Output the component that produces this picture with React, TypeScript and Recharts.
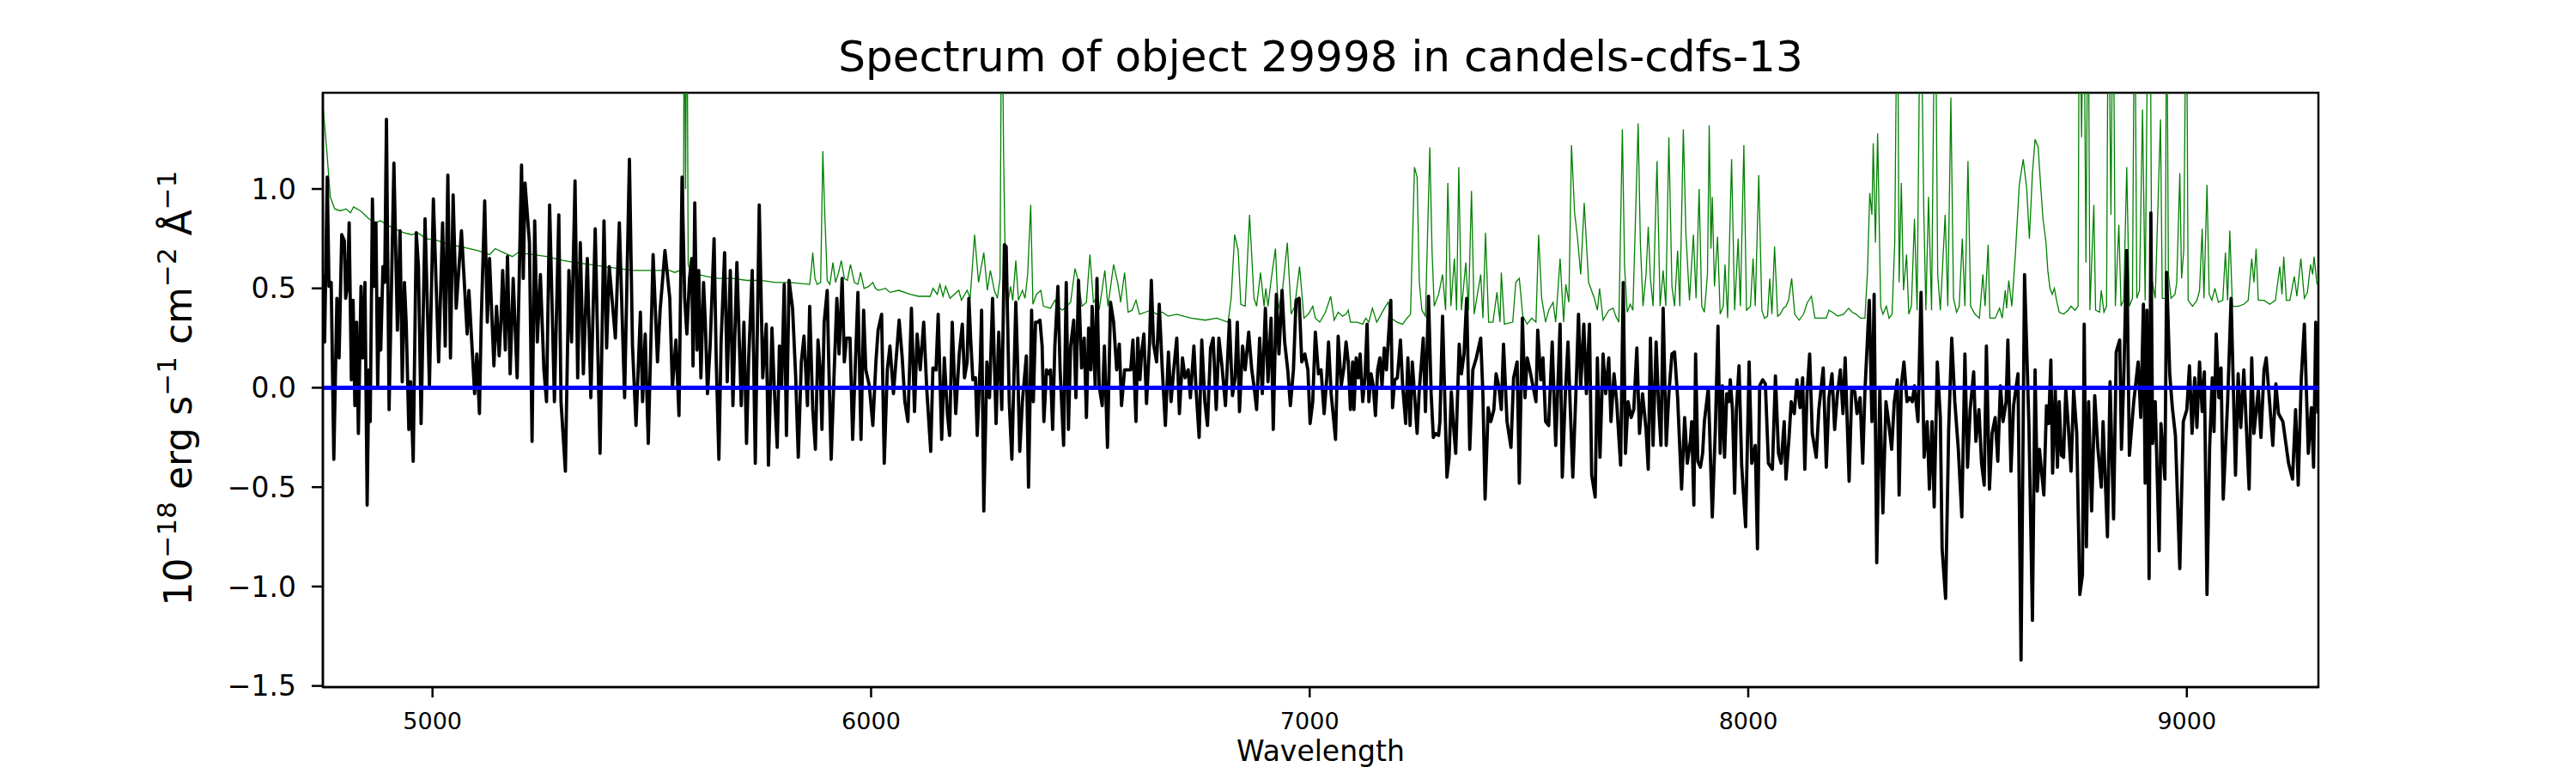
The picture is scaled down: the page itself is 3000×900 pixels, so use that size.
import { LineChart, Line, XAxis, YAxis, Label, ReferenceArea } from "recharts";

const fluxBlue4750: [number, number][] = [
  [4750, 0.57], [4754, 0.23], [4760, 1.06], [4764, 0.51], [4769, 0.53], [4775, -0.36], [4782, 0.45], [4787, 0.15],
  [4793, 0.77], [4799, 0.74], [4802, 0.45], [4806, 0.51], [4810, 0.83], [4815, 0.04], [4819, 0.44], [4823, -0.09],
  [4827, 0.33], [4831, -0.23], [4837, 0.51], [4841, 0.15], [4846, 0.53], [4851, -0.59], [4855, 0.09], [4858, -0.17],
  [4863, 0.95], [4867, 0.51], [4871, 0.83], [4875, 0.01], [4879, 0.45], [4882, 0.19], [4887, 0.61], [4891, 0.53],
  [4895, 1.35], [4901, -0.11], [4912, 1.13], [4920, 0.29], [4926, 0.79], [4931, 0.03], [4936, 0.53], [4940, 0.33],
  [4946, -0.21], [4950, 0.03], [4956, -0.37], [4963, 0.78], [4968, 0.61], [4974, -0.18], [4983, 0.85], [4993, 0.01],
  [5002, 0.95], [5014, 0.13], [5023, 0.83], [5029, 0.21], [5035, 1.07], [5041, 0.15], [5047, 0.97], [5054, 0.4],
  [5066, 0.79], [5079, 0.27], [5083, 0.49], [5096, -0.03], [5101, 0.17], [5107, -0.13], [5111, 0.33], [5119, 0.94],
  [5125, 0.33], [5130, 0.65], [5140, 0.11], [5146, 0.41], [5152, 0.16], [5156, 0.33], [5160, 0.59], [5166, 0.19],
  [5171, 0.66], [5177, 0.07], [5184, 0.55], [5193, 0.05], [5203, 1.12], [5207, 0.55], [5211, 1.03], [5221, 0.73],
  [5227, -0.27], [5233, 0.84], [5239, 0.23], [5246, 0.57], [5254, 0.09], [5260, -0.07], [5267, 0.92], [5278, -0.07],
  [5288, 0.87], [5293, -0.07], [5303, -0.42], [5311, 0.59], [5317, 0.23], [5325, 1.04], [5331, 0.05], [5337, 0.73],
  [5344, 0.07], [5353, 0.65], [5361, -0.05], [5371, 0.8], [5382, -0.33], [5391, 0.84], [5397, 0.2], [5403, 0.61],
  [5417, 0.25], [5426, 0.83], [5438, -0.05], [5449, 1.15], [5456, 0.21], [5464, -0.19], [5474, 0.38], [5479, -0.07],
  [5485, 0.27], [5492, -0.28], [5503, 0.67], [5513, 0.13], [5519, 0.39], [5530, 0.69], [5541, 0.45],
];

const fluxBlue5550: [number, number][] = [
  [5547, 0.0], [5555, 0.24], [5562, -0.14], [5569, 1.06], [5575, 0.45], [5580, 0.27], [5586, 0.55], [5591, 0.65],
  [5594, 0.11], [5598, 0.93], [5603, 0.19], [5607, 0.59], [5612, 0.05], [5618, 0.53], [5622, 0.33], [5627, -0.03],
  [5633, 0.21], [5642, 0.75], [5647, 0.13], [5653, -0.36], [5658, 0.23], [5666, 0.68], [5672, 0.03], [5679, 0.59],
  [5685, -0.09], [5694, 0.63], [5704, -0.09], [5710, 0.33], [5716, -0.28], [5721, 0.15], [5729, 0.59], [5736, -0.38],
  [5745, 0.92], [5753, 0.05], [5761, 0.32], [5766, -0.39], [5774, 0.3], [5779, 0.01], [5786, -0.3], [5791, 0.21],
  [5796, 0.01], [5802, 0.52], [5807, -0.24], [5813, 0.54], [5821, 0.4], [5828, 0.06], [5834, -0.35], [5841, 0.13],
  [5847, 0.26], [5855, -0.09], [5860, 0.41], [5867, -0.11], [5873, -0.31], [5879, 0.24], [5884, 0.09], [5888, -0.21],
  [5893, 0.33], [5900, 0.49], [5903, 0.17], [5909, -0.36], [5916, 0.09], [5922, 0.45], [5927, 0.17], [5934, 0.55],
  [5939, 0.13], [5944, 0.25], [5952, 0.25], [5958, -0.26], [5970, 0.48], [5977, -0.26], [5983, 0.39], [5988, 0.09],
  [5996, 0.01], [6004, -0.19], [6011, 0.13], [6016, 0.29], [6024, 0.37], [6030, -0.38], [6037, 0.09], [6043, 0.21],
  [6051, -0.03], [6058, 0.17], [6064, 0.34], [6071, 0.15], [6077, -0.07], [6084, -0.17], [6092, 0.4], [6099, -0.12],
  [6105, 0.27], [6112, 0.09], [6120, 0.33], [6127, -0.01], [6136, -0.32], [6141, 0.1], [6148, 0.09], [6153, 0.37],
  [6161, -0.26], [6167, 0.15], [6174, -0.13], [6179, -0.24], [6185, 0.33], [6193, -0.13], [6201, 0.17], [6208, 0.32],
  [6213, 0.05], [6219, 0.13], [6223, 0.45], [6227, 0.25], [6232, 0.04], [6238, 0.05], [6242, -0.24], [6249, 0.13],
  [6252, 0.39], [6257, -0.62], [6264, 0.13], [6270, -0.05], [6277, 0.45], [6285, -0.18], [6291, 0.28], [6298, -0.11],
  [6304, 0.72],
];

const fluxBlue6300: [number, number][] = [
  [6308, 0.71], [6315, -0.07], [6321, -0.36], [6330, 0.43], [6334, 0.13], [6339, -0.32], [6345, -0.07], [6354, 0.16],
  [6359, -0.5], [6366, 0.39], [6370, -0.07], [6375, 0.33], [6380, 0.33], [6385, 0.34], [6390, 0.21], [6394, -0.17],
  [6400, 0.09], [6404, 0.07], [6409, 0.09], [6414, -0.21], [6419, 0.21], [6426, 0.51], [6431, 0.09], [6439, -0.29],
  [6445, 0.53], [6450, -0.21], [6455, 0.21], [6462, 0.34], [6467, -0.05], [6473, 0.54], [6480, 0.1], [6486, 0.25],
  [6491, -0.15], [6496, 0.3], [6501, 0.09], [6504, 0.41], [6511, 0.01], [6515, 0.55], [6520, 0.01], [6527, -0.09],
  [6532, 0.21], [6539, -0.3], [6546, 0.43], [6553, 0.33], [6560, 0.09], [6566, 0.22], [6571, -0.09], [6578, 0.09],
  [6584, 0.09], [6592, 0.09], [6597, 0.24], [6604, -0.17], [6608, 0.25], [6613, 0.04], [6617, 0.18], [6622, 0.27],
  [6628, -0.08], [6635, 0.23], [6639, 0.54], [6644, 0.22], [6651, 0.13], [6657, 0.42], [6664, 0.09], [6671, -0.19],
  [6678, 0.18], [6684, -0.07], [6690, 0.09], [6697, 0.25], [6703, -0.13], [6710, 0.15], [6716, 0.05], [6723, 0.09],
  [6728, -0.05], [6736, 0.21], [6741, -0.01], [6748, -0.25], [6754, 0.24], [6761, -0.07], [6767, -0.19], [6774, 0.2],
  [6780, 0.25], [6787, -0.11], [6793, 0.25], [6800, 0.11], [6808, -0.09], [6817, 0.34], [6824, -0.04], [6830, 0.05],
  [6835, 0.33], [6840, -0.12], [6847, 0.21], [6853, 0.09], [6861, 0.28], [6868, 0.09], [6873, 0.01], [6879, -0.11],
  [6886, 0.25], [6892, -0.03], [6899, 0.4], [6905, 0.03], [6912, 0.35], [6917, -0.21], [6924, 0.47], [6930, 0.17],
  [6937, 0.49], [6943, 0.23], [6950, 0.09], [6956, -0.09], [6963, 0.09], [6969, 0.44], [6976, 0.45], [6982, 0.13],
  [6989, 0.17], [6996, 0.09], [7001, -0.18], [7007, -0.07], [7013, 0.28], [7020, 0.07], [7026, 0.09], [7033, -0.13],
  [7039, 0.05], [7043, 0.23], [7049, -0.03], [7059, -0.26], [7065, 0.26], [7072, 0.01], [7078, 0.1], [7083, 0.23],
];

const fluxBlue7090: [number, number][] = [
  [7088, 0.13], [7093, -0.11], [7098, 0.13], [7101, -0.11], [7106, 0.15], [7111, 0.05], [7115, 0.17], [7121, -0.07],
  [7126, 0.05], [7131, 0.32], [7135, -0.07], [7140, 0.07], [7145, 0.01], [7150, -0.14], [7155, 0.09], [7160, 0.15],
  [7165, 0.01], [7170, 0.2], [7175, 0.09], [7179, 0.23], [7185, 0.44], [7189, -0.1], [7194, 0.04], [7200, 0.05],
  [7207, 0.24], [7212, 0.01], [7219, -0.18], [7224, 0.15], [7229, -0.19], [7234, 0.13], [7239, -0.03], [7245, -0.23],
  [7250, -0.01], [7255, 0.13], [7259, 0.25], [7264, -0.12], [7271, 0.46], [7277, -0.03], [7282, -0.25], [7287, -0.23],
  [7294, -0.24], [7297, -0.17], [7303, 0.36], [7313, -0.45], [7318, -0.35], [7323, -0.02], [7328, -0.19], [7333, -0.33],
  [7341, 0.22], [7346, 0.07], [7352, 0.17], [7358, 0.45], [7365, -0.31], [7372, 0.09], [7380, 0.15], [7390, 0.25],
  [7395, -0.03], [7400, -0.56], [7407, -0.1], [7413, -0.17], [7420, -0.11], [7425, 0.07], [7431, 0.01], [7437, -0.11],
  [7442, 0.22], [7450, -0.17], [7459, -0.3], [7465, 0.05], [7473, 0.13], [7478, -0.48], [7485, 0.35], [7491, -0.05],
  [7496, 0.15], [7502, 0.09], [7509, 0.01], [7516, -0.07], [7520, 0.29], [7527, 0.04], [7532, 0.15], [7538, -0.17],
  [7545, -0.19], [7553, 0.23], [7561, -0.29], [7571, 0.32], [7576, -0.45], [7583, -0.03], [7589, 0.23], [7594, -0.09],
  [7600, -0.45], [7607, -0.03], [7613, 0.37], [7618, 0.0], [7625, 0.32], [7631, -0.03], [7638, 0.32], [7643, -0.44],
  [7651, -0.55], [7656, 0.15], [7662, -0.35], [7669, 0.17], [7675, -0.03], [7682, 0.15], [7687, -0.17], [7694, 0.07],
  [7700, -0.07], [7705, -0.25], [7709, -0.39], [7715, 0.53], [7720, -0.33], [7726, -0.07], [7733, -0.15], [7739, -0.11],
  [7746, 0.2], [7752, -0.23], [7759, -0.03], [7767, -0.21], [7772, -0.41], [7777, 0.25], [7783, -0.29], [7790, 0.23],
  [7796, -0.11], [7801, -0.29], [7806, 0.4], [7813, -0.29], [7819, -0.03], [7826, 0.17], [7832, 0.18], [7839, -0.05],
  [7848, -0.51], [7855, -0.15], [7861, -0.38], [7868, -0.27],
];

const fluxBlue7870: [number, number][] = [
  [7871, -0.17], [7876, -0.59], [7880, 0.17], [7885, -0.37], [7891, -0.4], [7896, -0.33], [7900, -0.17], [7909, 0.0],
  [7918, -0.65], [7925, -0.21], [7931, 0.31], [7936, -0.33], [7941, 0.01], [7946, -0.35], [7951, -0.03], [7956, -0.07],
  [7959, 0.04], [7964, -0.11], [7969, -0.53], [7973, -0.11], [7979, 0.11], [7985, -0.39], [7994, -0.7], [8002, 0.13],
  [8008, -0.38], [8016, -0.29], [8021, -0.81], [8026, 0.01], [8033, 0.04], [8039, 0.02], [8046, -0.38], [8055, -0.41],
  [8062, 0.06], [8069, -0.33], [8075, -0.38], [8082, -0.17], [8086, -0.46], [8093, -0.25], [8098, -0.07], [8105, -0.13],
  [8111, 0.04], [8118, -0.1], [8124, 0.05], [8129, -0.41], [8134, -0.03], [8140, 0.17], [8146, -0.23], [8155, -0.35],
  [8161, -0.11], [8171, 0.1], [8178, -0.4], [8184, -0.05], [8191, 0.07], [8197, -0.21], [8203, -0.04], [8210, 0.09],
  [8216, -0.13], [8221, 0.15], [8230, -0.47], [8236, -0.01], [8243, -0.02], [8248, -0.13], [8255, -0.05], [8261, -0.38],
  [8266, -0.02], [8276, 0.44], [8282, -0.17], [8287, 0.47], [8293, -0.88], [8300, -0.01], [8307, -0.63], [8314, -0.07],
  [8320, -0.17], [8327, -0.31], [8333, -0.07], [8340, 0.04], [8344, -0.54], [8349, 0.01], [8355, 0.13], [8362, -0.07],
  [8368, -0.05], [8374, -0.07], [8379, 0.01], [8387, -0.17], [8394, 0.48], [8401, -0.35], [8408, -0.17], [8413, -0.51],
  [8419, -0.17], [8424, -0.6], [8431, 0.13], [8438, -0.15], [8442, -0.81], [8450, -1.06], [8457, -0.21], [8464, 0.25],
  [8471, -0.07], [8479, -0.31], [8487, -0.65], [8494, 0.17], [8500, -0.4], [8506, -0.11], [8514, 0.08], [8519, -0.27],
  [8526, -0.11], [8532, -0.38], [8538, -0.49], [8543, 0.21], [8550, -0.51], [8556, -0.23], [8563, -0.15], [8569, -0.37],
  [8575, 0.01], [8581, -0.17], [8588, -0.07], [8592, 0.24], [8599, -0.42], [8605, -0.09], [8615, 0.07], [8622, -1.37],
  [8630, 0.57], [8640, -0.19], [8648, -1.17],
];

const fluxBlue8650: [number, number][] = [
  [8654, 0.09], [8659, -0.52], [8664, -0.31], [8674, -0.54], [8680, -0.09], [8685, -0.18], [8690, 0.14], [8694, -0.43],
  [8700, -0.01], [8705, -0.4], [8709, -0.07], [8714, -0.34], [8719, -0.35], [8724, -0.01], [8730, -0.2], [8736, -0.42],
  [8742, -0.01], [8749, -0.23], [8756, -1.04], [8762, -0.94], [8766, 0.32], [8771, -0.8], [8776, -0.07], [8783, -0.62],
  [8790, -0.04], [8797, -0.3], [8805, -0.5], [8809, -0.17], [8819, -0.75], [8825, 0.03], [8833, -0.66], [8839, 0.18],
  [8847, 0.24], [8851, -0.31], [8856, 0.03], [8863, 0.69], [8869, -0.34], [8879, -0.07], [8889, 0.13], [8895, -0.15],
  [8901, 0.42], [8905, -0.48], [8909, 0.39], [8914, -0.96], [8918, 0.88], [8922, -0.28], [8928, -0.07], [8937, -0.82],
  [8941, -0.18], [8950, -0.46], [8954, 0.58], [8961, 0.07], [8967, -0.1], [8974, -0.24], [8984, -0.91], [8992, -0.17],
  [9000, -0.11], [9006, 0.11], [9012, -0.23], [9018, 0.05], [9023, -0.2], [9029, 0.13], [9035, -0.12], [9040, 0.08],
  [9046, -1.04], [9052, -0.3], [9058, 0.05], [9062, -0.22], [9067, 0.27], [9073, -0.05], [9078, 0.1], [9083, -0.56],
  [9093, -0.07], [9101, 0.45], [9111, -0.44], [9117, 0.07], [9123, -0.2], [9130, 0.09], [9142, -0.51], [9148, 0.15],
  [9153, -0.23], [9163, -0.01], [9169, -0.25], [9176, 0.09], [9181, 0.15], [9188, -0.05], [9196, -0.29], [9203, 0.02],
  [9209, -0.13], [9219, -0.17], [9232, -0.38], [9241, -0.46], [9248, -0.11], [9254, -0.49], [9261, 0.05], [9268, 0.32],
  [9277, -0.33], [9284, -0.1], [9289, -0.4], [9294, 0.33], [9299, -0.13],
];

// Noise / sky spectrum (green); sky lines above the frame are clipped
const errBlue4750: [number, number][] = [
  [4751, 1.4], [4758, 1.22], [4767, 0.96], [4777, 0.9], [4790, 0.89], [4803, 0.9], [4813, 0.88], [4820, 0.91],
  [4836, 0.89], [4855, 0.85], [4869, 0.83], [4882, 0.84], [4895, 0.82], [4914, 0.8], [4934, 0.78], [4953, 0.77],
  [4966, 0.78], [4986, 0.75], [5012, 0.74], [5038, 0.72], [5064, 0.71], [5104, 0.69], [5130, 0.67], [5143, 0.7],
  [5162, 0.68], [5182, 0.66], [5195, 0.68], [5228, 0.67], [5260, 0.66], [5280, 0.65], [5299, 0.64], [5325, 0.63],
  [5358, 0.62], [5391, 0.61], [5423, 0.6], [5456, 0.59], [5489, 0.59], [5541, 0.59],
];

const errBlue5550: [number, number][] = [
  [5552, 0.58], [5565, 0.59], [5572, 0.6], [5574, 2.2], [5577, 1.0], [5580, 2.2], [5583, 0.62], [5590, 0.57],
  [5606, 0.57], [5625, 0.56], [5652, 0.55], [5684, 0.55], [5717, 0.54], [5749, 0.54], [5782, 0.53], [5815, 0.53],
  [5860, 0.52], [5864, 0.6], [5867, 0.68], [5872, 0.55], [5877, 0.52], [5885, 0.53], [5890, 1.19], [5894, 0.9],
  [5900, 0.54], [5906, 0.52], [5913, 0.63], [5919, 0.53], [5926, 0.58], [5932, 0.64], [5939, 0.55], [5946, 0.54],
  [5953, 0.62], [5962, 0.53], [5970, 0.52], [5976, 0.58], [5984, 0.5], [5995, 0.51], [6004, 0.53], [6010, 0.5],
  [6017, 0.49], [6033, 0.5], [6043, 0.48], [6063, 0.49], [6089, 0.47], [6108, 0.46], [6135, 0.46], [6141, 0.5],
  [6151, 0.47], [6157, 0.52], [6164, 0.46], [6170, 0.51], [6180, 0.45], [6200, 0.49], [6206, 0.44], [6219, 0.49],
  [6226, 0.45], [6236, 0.77], [6245, 0.53], [6257, 0.68], [6265, 0.49], [6272, 0.59], [6281, 0.49], [6288, 0.45],
  [6294, 0.55], [6298, 2.2], [6302, 1.2], [6305, 0.75],
];

const errBlue6300: [number, number][] = [
  [6312, 0.43], [6318, 0.51], [6323, 0.44], [6330, 0.64], [6336, 0.44], [6345, 0.49], [6351, 0.45], [6357, 0.57],
  [6364, 0.92], [6369, 0.42], [6377, 0.47], [6387, 0.49], [6393, 0.41], [6409, 0.4], [6419, 0.44], [6426, 0.41],
  [6436, 0.39], [6455, 0.43], [6465, 0.6], [6471, 0.55], [6481, 0.41], [6491, 0.43], [6499, 0.67], [6507, 0.43],
  [6514, 0.45], [6520, 0.39], [6533, 0.59], [6540, 0.41], [6553, 0.62], [6563, 0.52], [6569, 0.43], [6578, 0.58],
  [6586, 0.38], [6595, 0.39], [6604, 0.44], [6612, 0.37], [6625, 0.38], [6638, 0.39], [6651, 0.37], [6664, 0.38],
  [6677, 0.36], [6697, 0.37], [6729, 0.35], [6762, 0.34], [6788, 0.35], [6814, 0.33], [6821, 0.45], [6829, 0.77],
  [6837, 0.69], [6843, 0.42], [6853, 0.41], [6863, 0.87], [6873, 0.45], [6879, 0.41], [6888, 0.58], [6896, 0.41],
  [6900, 0.5], [6905, 0.41], [6912, 0.54], [6922, 0.7], [6928, 0.39], [6938, 0.49], [6949, 0.73], [6958, 0.37],
  [6966, 0.41], [6977, 0.61], [6987, 0.35], [6997, 0.37], [7007, 0.41], [7013, 0.35], [7023, 0.33], [7036, 0.38],
  [7048, 0.46], [7056, 0.34], [7065, 0.38], [7075, 0.36], [7083, 0.37],
];

const errBlue7090: [number, number][] = [
  [7088, 0.39], [7093, 0.33], [7108, 0.33], [7121, 0.32], [7128, 0.35], [7135, 0.33], [7143, 0.4], [7153, 0.33],
  [7163, 0.37], [7173, 0.41], [7179, 0.43], [7186, 0.35], [7199, 0.33], [7212, 0.32], [7222, 0.35], [7230, 0.37],
  [7239, 1.11], [7245, 1.06], [7250, 0.53], [7256, 0.39], [7264, 0.36], [7274, 1.21], [7279, 0.69], [7284, 0.41],
  [7294, 0.47], [7303, 0.57], [7310, 0.39], [7315, 1.03], [7322, 0.41], [7330, 0.65], [7335, 0.39], [7340, 1.11],
  [7346, 0.39], [7356, 0.63], [7362, 0.39], [7369, 0.99], [7375, 0.37], [7390, 0.57], [7395, 0.35], [7401, 0.78],
  [7408, 0.33], [7418, 0.33], [7427, 0.48], [7434, 0.33], [7437, 0.58], [7444, 0.32], [7463, 0.33], [7470, 0.53],
  [7478, 0.55], [7486, 0.36], [7496, 0.32], [7506, 0.35], [7516, 0.33], [7522, 0.77], [7529, 0.45], [7538, 0.33],
  [7545, 0.39], [7555, 0.43], [7561, 0.33], [7571, 0.65], [7579, 0.33], [7584, 0.52], [7591, 0.43], [7597, 1.22],
  [7604, 0.88], [7610, 0.77], [7618, 0.57], [7626, 0.93], [7636, 0.53], [7649, 0.45], [7656, 0.39], [7661, 0.5],
  [7669, 0.34], [7682, 0.39], [7692, 0.4], [7698, 0.36], [7705, 0.33], [7713, 1.3], [7718, 0.61], [7724, 0.38],
  [7731, 0.42], [7737, 0.39], [7749, 1.33], [7754, 0.73], [7760, 0.41], [7767, 0.57], [7772, 0.81], [7777, 0.55],
  [7783, 0.41], [7792, 1.14], [7799, 0.41], [7806, 0.59], [7812, 0.41], [7819, 1.26], [7826, 0.51], [7832, 0.41],
  [7839, 0.69], [7844, 0.41], [7852, 1.3], [7858, 0.77], [7866, 0.44], [7875, 0.77], [7881, 0.45], [7888, 1.0],
];

const errBlue7870: [number, number][] = [
  [7894, 0.41], [7900, 0.38], [7907, 0.57], [7911, 1.32], [7915, 0.7], [7918, 0.96], [7923, 0.51], [7930, 0.76],
  [7936, 0.37], [7943, 0.41], [7947, 0.62], [7953, 0.35], [7962, 1.15], [7969, 0.39], [7977, 0.75], [7982, 0.41],
  [7990, 1.22], [7996, 0.39], [8005, 0.41], [8011, 0.65], [8016, 0.41], [8024, 1.07], [8031, 0.39], [8037, 0.35],
  [8044, 0.36], [8049, 0.55], [8054, 0.37], [8060, 0.71], [8067, 0.36], [8073, 0.37], [8080, 0.4], [8086, 0.41],
  [8092, 0.44], [8099, 0.55], [8106, 0.37], [8116, 0.34], [8126, 0.37], [8135, 0.43], [8144, 0.46], [8152, 0.35],
  [8165, 0.35], [8178, 0.35], [8184, 0.39], [8192, 0.38], [8204, 0.36], [8217, 0.37], [8229, 0.4], [8237, 0.38],
  [8246, 0.37], [8256, 0.35], [8266, 0.35], [8272, 0.59], [8277, 0.98], [8282, 0.87], [8285, 1.23], [8290, 0.73],
  [8295, 1.28], [8302, 0.41], [8307, 0.37], [8315, 0.41], [8321, 0.35], [8328, 0.37], [8334, 0.73], [8340, 2.2],
  [8344, 0.53], [8349, 1.03], [8354, 0.49], [8361, 0.67], [8366, 0.37], [8372, 0.41], [8379, 0.85], [8385, 0.39],
  [8393, 2.2], [8400, 0.92], [8405, 0.39], [8411, 0.96], [8418, 0.39], [8426, 2.2], [8432, 0.57], [8438, 0.39],
  [8449, 0.87], [8455, 0.41], [8462, 1.46], [8468, 0.45], [8475, 0.38], [8481, 0.41], [8488, 0.75], [8494, 0.41],
  [8501, 1.14], [8507, 0.41], [8517, 0.37], [8527, 0.35], [8535, 0.57], [8540, 0.41], [8547, 0.72], [8551, 0.35],
  [8563, 0.35], [8573, 0.4], [8579, 0.35], [8586, 0.49], [8589, 0.4], [8594, 0.54], [8601, 0.41], [8609, 0.67],
  [8618, 1.02], [8627, 1.15], [8635, 1.0], [8641, 0.75], [8648, 1.08],
];

const errBlue8650: [number, number][] = [
  [8654, 1.25], [8661, 1.21], [8666, 1.04], [8672, 0.85], [8679, 0.73], [8683, 0.59], [8688, 0.5], [8693, 0.47],
  [8698, 0.5], [8703, 0.44], [8709, 0.38], [8719, 0.37], [8729, 0.39], [8736, 0.41], [8745, 0.39], [8752, 0.41],
  [8755, 2.2], [8760, 1.26], [8765, 2.2], [8770, 0.63], [8775, 2.2], [8779, 0.39], [8788, 0.92], [8792, 0.39],
  [8801, 0.38], [8805, 0.49], [8811, 0.38], [8817, 0.41], [8821, 2.2], [8827, 0.87], [8832, 2.2], [8837, 0.41],
  [8845, 0.82], [8850, 0.41], [8856, 0.44], [8863, 1.11], [8869, 0.41], [8876, 0.45], [8881, 2.2], [8886, 0.45],
  [8892, 0.49], [8899, 1.4], [8905, 0.44], [8912, 2.2], [8916, 2.2], [8920, 0.55], [8928, 0.45], [8940, 1.35],
  [8944, 0.45], [8951, 0.45], [8954, 2.2], [8958, 0.57], [8964, 0.45], [8973, 0.47], [8977, 0.53], [8984, 1.08],
  [8988, 0.55], [8993, 0.69], [8999, 2.2], [9003, 0.44], [9013, 0.41], [9023, 0.44], [9029, 0.49], [9035, 0.8],
  [9039, 0.45], [9046, 1.02], [9051, 0.47], [9057, 0.44], [9064, 0.5], [9072, 0.43], [9082, 0.44], [9088, 0.68],
  [9093, 0.44], [9098, 0.79], [9104, 0.41], [9117, 0.41], [9130, 0.42], [9140, 0.44], [9148, 0.65], [9153, 0.53],
  [9158, 0.7], [9163, 0.44], [9176, 0.44], [9189, 0.42], [9202, 0.44], [9212, 0.61], [9217, 0.47], [9221, 0.66],
  [9227, 0.44], [9235, 0.44], [9245, 0.56], [9251, 0.46], [9260, 0.65], [9268, 0.45], [9275, 0.48], [9282, 0.62],
  [9287, 0.57], [9290, 0.66], [9297, 0.52], [9300, 0.55],
];

// Model (blue) sits flat at zero over the whole range
const modelFlux: [number, number][] = [
  [4750, 0],
  [9300, 0],
];

const wavelengthRange: [number, number] = [4750, 9300];
const fluxRange: [number, number] = [-1.506, 1.484];
const wavelengthTicks = [5000, 6000, 7000, 8000, 9000];
const fluxTicks = [-1.5, -1.0, -0.5, 0.0, 0.5, 1.0];

const toPoints = (rows: [number, number][]) => rows.map(([wl, flux]) => ({ wl, flux }));

const observed = toPoints([
  ...fluxBlue4750,
  ...fluxBlue5550,
  ...fluxBlue6300,
  ...fluxBlue7090,
  ...fluxBlue7870,
  ...fluxBlue8650,
]);
const noise = toPoints([
  ...errBlue4750,
  ...errBlue5550,
  ...errBlue6300,
  ...errBlue7090,
  ...errBlue7870,
  ...errBlue8650,
]);
const model = toPoints(modelFlux);

const FONT = "DejaVu Sans";
const frame = { stroke: "#000", strokeWidth: 2.5 };

const fmtFlux = (v: number) => v.toFixed(1).replace("-", "\u2212");

function YTitle() {
  return (
    <text
      transform="translate(223,452) rotate(-90)"
      textAnchor="middle"
      fontFamily={FONT}
      fontSize={44}
      fill="#000"
    >
      10
      <tspan fontSize={31} dy={-18}>{"\u221218"}</tspan>
      <tspan dy={18}>{" erg s"}</tspan>
      <tspan fontSize={31} dy={-18}>{"\u22121"}</tspan>
      <tspan dy={18}>{" cm"}</tspan>
      <tspan fontSize={31} dy={-18}>{"\u22122"}</tspan>
      <tspan dy={18}>{" \u00C5"}</tspan>
      <tspan fontSize={31} dy={-18}>{"\u22121"}</tspan>
    </text>
  );
}

function XTexts() {
  return (
    <g>
      <text x={1538} y={83} textAnchor="middle" fontFamily={FONT} fontSize={50} fill="#000">
        Spectrum of object 29998 in candels-cdfs-13
      </text>
      <text x={1538} y={886} textAnchor="middle" fontFamily={FONT} fontSize={33} fill="#000">
        Wavelength
      </text>
    </g>
  );
}

export default function App() {
  return (
    <div style={{ width: 3000, height: 900, background: "#fff" }}>
      <style>{"body{margin:0}"}</style>
      <LineChart width={3000} height={900} margin={{ top: 108, right: 300, bottom: 0, left: 276 }}>
        <XAxis
          dataKey="wl"
          type="number"
          domain={wavelengthRange}
          ticks={wavelengthTicks}
          allowDataOverflow
          height={100}
          axisLine={frame}
          tickLine={frame}
          tickSize={12}
          tickMargin={18}
          tick={{ fill: "#000", fontFamily: FONT, fontSize: 27 }}
        >
          <Label content={() => <XTexts />} />
        </XAxis>
        <YAxis
          type="number"
          domain={fluxRange}
          ticks={fluxTicks}
          allowDataOverflow
          width={100}
          axisLine={frame}
          tickLine={frame}
          tickSize={13}
          tickMargin={18}
          tickFormatter={fmtFlux}
          tick={{ fill: "#000", fontFamily: FONT, fontSize: 33 }}
        >
          <Label content={() => <YTitle />} />
        </YAxis>
        <Line
          data={noise}
          dataKey="flux"
          type="linear"
          stroke="#008000"
          strokeWidth={1.3}
          dot={false}
          activeDot={false}
          isAnimationActive={false}
        />
        <Line
          data={observed}
          dataKey="flux"
          type="linear"
          stroke="#000"
          strokeWidth={3.8}
          strokeLinejoin="round"
          dot={false}
          activeDot={false}
          isAnimationActive={false}
        />
        <Line
          data={model}
          dataKey="flux"
          type="linear"
          stroke="#0000ff"
          strokeWidth={5}
          dot={false}
          activeDot={false}
          isAnimationActive={false}
        />
        <ReferenceArea
          x1={wavelengthRange[0]}
          x2={wavelengthRange[1]}
          y1={fluxRange[0]}
          y2={fluxRange[1]}
          ifOverflow="visible"
          fill="none"
          fillOpacity={0}
          stroke="#000"
          strokeWidth={2.5}
        />
      </LineChart>
    </div>
  );
}
